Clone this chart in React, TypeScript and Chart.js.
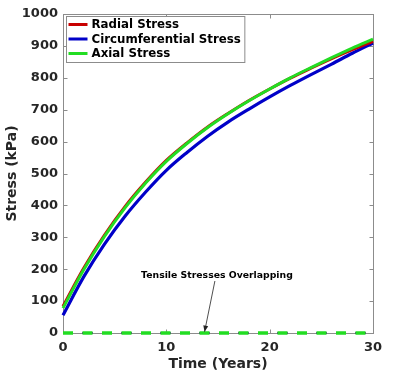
import React, { useEffect, useRef } from 'react';
import { Chart, registerables } from 'chart.js';

Chart.register(...registerables);

// ---- data ----
const years = [0, 2, 4, 6, 8, 10, 12, 14, 16, 18, 20, 22, 24, 26, 28, 30];
const radialStress = [84, 203, 306, 396, 473, 541, 596, 646, 689, 729, 765, 799, 830, 860, 888, 914];
const circumferentialStress = [56, 176, 278, 366, 442, 510, 566, 617, 662, 702, 740, 776, 810, 843, 877, 909];
const axialStress = [78, 198, 302, 392, 470, 538, 594, 644, 688, 728, 765, 800, 832, 863, 893, 921];

const tensileYears = [0, 30];
const radialTensile = [0, 0];
const circumferentialTensile = [0, 0];
const axialTensile = [0, 0];

const seriesLabels = ['Radial Stress', 'Circumferential Stress', 'Axial Stress'];
const annotationText = 'Tensile Stresses Overlapping';
const xTitle = 'Time (Years)';
const yTitle = 'Stress (kPa)';

const RED = '#c80000';
const BLUE = '#0000c8';
const GREEN = '#22dd22';
const FRAME = '#8c8c8c';
const TEXT = '#262626';
const FONT = '"DejaVu Sans", sans-serif';

const toPts = (xs: number[], ys: number[]) => xs.map((x, i) => ({ x, y: ys[i] }));

const framePlugin = {
  id: 'matlabFrame',
  beforeDatasetsDraw(chart: any) {
    const { ctx, chartArea: a, scales } = chart;
    const x = scales.x;
    const y = scales.y;
    ctx.save();
    ctx.strokeStyle = FRAME;
    ctx.lineWidth = 1;
    const L = Math.round(a.left) + 0.5;
    const R = Math.round(a.right) + 0.5;
    const T = Math.round(a.top) + 0.5;
    const B = Math.round(a.bottom) + 0.5;
    ctx.strokeRect(L, T, R - L, B - T);
    const tl = 4;
    ctx.beginPath();
    x.ticks.forEach((t: any) => {
      const px = Math.round(x.getPixelForValue(t.value)) + 0.5;
      ctx.moveTo(px, B);
      ctx.lineTo(px, B - tl);
      ctx.moveTo(px, T);
      ctx.lineTo(px, T + tl);
    });
    y.ticks.forEach((t: any) => {
      const py = Math.round(y.getPixelForValue(t.value)) + 0.5;
      ctx.moveTo(L, py);
      ctx.lineTo(L + tl, py);
      ctx.moveTo(R, py);
      ctx.lineTo(R - tl, py);
    });
    ctx.stroke();
    ctx.restore();
  },
  afterDatasetsDraw(chart: any) {
    const { ctx, chartArea: a, scales } = chart;
    const x = scales.x;
    const y = scales.y;
    ctx.save();
    // legend
    ctx.font = `bold 11.8px ${FONT}`;
    const colors = [RED, BLUE, GREEN];
    const maxW = Math.max(...seriesLabels.map((s) => ctx.measureText(s).width));
    const bx = Math.round(a.left) + 3.5;
    const by = Math.round(a.top) + 2.5;
    const bw = 25 + maxW + 4;
    const bh = 46;
    ctx.fillStyle = '#ffffff';
    ctx.fillRect(bx, by, bw, bh);
    ctx.strokeStyle = FRAME;
    ctx.lineWidth = 1;
    ctx.strokeRect(bx, by, bw, bh);
    seriesLabels.forEach((s, i) => {
      const cy = by + 8 + i * 14.5;
      ctx.strokeStyle = colors[i];
      ctx.lineWidth = 3;
      ctx.beginPath();
      ctx.moveTo(bx + 2, cy);
      ctx.lineTo(bx + 21, cy);
      ctx.stroke();
      ctx.fillStyle = '#000';
      ctx.textAlign = 'left';
      ctx.textBaseline = 'middle';
      ctx.fillText(s, bx + 25, cy + 0.5);
    });
    // annotation
    ctx.font = `bold 9.3px ${FONT}`;
    ctx.fillStyle = '#000';
    ctx.textAlign = 'center';
    ctx.textBaseline = 'middle';
    ctx.fillText(annotationText, x.getPixelForValue(14.9), y.getPixelForValue(179));
    const x1 = x.getPixelForValue(14.7);
    const y1 = y.getPixelForValue(163);
    const x2 = x.getPixelForValue(13.7);
    const y2 = y.getPixelForValue(4);
    ctx.strokeStyle = '#222';
    ctx.lineWidth = 0.8;
    ctx.beginPath();
    ctx.moveTo(x1, y1);
    ctx.lineTo(x2, y2);
    ctx.stroke();
    const ang = Math.atan2(y2 - y1, x2 - x1);
    const hl = 6;
    const hw = 2.5;
    ctx.fillStyle = '#222';
    ctx.beginPath();
    ctx.moveTo(x2, y2);
    ctx.lineTo(x2 - hl * Math.cos(ang) + hw * Math.sin(ang), y2 - hl * Math.sin(ang) - hw * Math.cos(ang));
    ctx.lineTo(x2 - hl * Math.cos(ang) - hw * Math.sin(ang), y2 - hl * Math.sin(ang) + hw * Math.cos(ang));
    ctx.closePath();
    ctx.fill();
    ctx.restore();
  },
};

export default function App() {
  const ref = useRef<HTMLCanvasElement | null>(null);
  useEffect(() => {
    if (!ref.current) return;
    const dashed = [10, 9.5];
    const chart = new Chart(ref.current, {
      type: 'line',
      data: {
        datasets: [
          { label: 'Radial Tensile', data: toPts(tensileYears, radialTensile), borderColor: RED, borderWidth: 2, borderDash: dashed, pointRadius: 0, order: 5, clip: false } as any,
          { label: 'Circumferential Tensile', data: toPts(tensileYears, circumferentialTensile), borderColor: BLUE, borderWidth: 2, borderDash: dashed, pointRadius: 0, order: 4, clip: false } as any,
          { label: 'Axial Tensile', data: toPts(tensileYears, axialTensile), borderColor: GREEN, borderWidth: 3.5, borderDash: dashed, pointRadius: 0, order: 0, clip: false } as any,
          { label: seriesLabels[0], data: toPts(years, radialStress), borderColor: RED, borderWidth: 3, pointRadius: 0, cubicInterpolationMode: 'monotone', order: 2, clip: false } as any,
          { label: seriesLabels[1], data: toPts(years, circumferentialStress), borderColor: BLUE, borderWidth: 3.2, pointRadius: 0, cubicInterpolationMode: 'monotone', order: 3, clip: false } as any,
          { label: seriesLabels[2], data: toPts(years, axialStress), borderColor: GREEN, borderWidth: 3, pointRadius: 0, cubicInterpolationMode: 'monotone', order: 1, clip: false } as any,
        ],
      },
      options: {
        animation: false,
        responsive: false,
        maintainAspectRatio: false,
        layout: { padding: { top: 14, right: 27, left: 0, bottom: 0 } },
        plugins: { legend: { display: false }, tooltip: { enabled: false } },
        scales: {
          x: {
            type: 'linear',
            min: 0,
            max: 30,
            grid: { display: false, drawTicks: false },
            border: { display: false },
            ticks: {
              stepSize: 10,
              padding: 7,
              color: TEXT,
              font: { family: FONT, size: 13, weight: 'bold' },
              maxRotation: 0,
              callback: (v: any) => String(v),
            },
            title: { display: true, text: xTitle, color: TEXT, font: { family: FONT, size: 14, weight: 'bold' }, padding: { top: 0, bottom: 7.6 } },
            afterFit: (s: any) => { s.height = 47; },
          },
          y: {
            type: 'linear',
            min: 0,
            max: 1000,
            grid: { display: false, drawTicks: false },
            border: { display: false },
            ticks: {
              stepSize: 100,
              padding: 5,
              color: TEXT,
              font: { family: FONT, size: 13, weight: 'bold' },
              callback: (v: any) => String(v),
            },
            title: { display: true, text: yTitle, color: TEXT, font: { family: FONT, size: 14, weight: 'bold' }, padding: { top: 4.1, bottom: 0 } },
            afterFit: (s: any) => { s.width = 63; },
          },
        },
      },
      plugins: [framePlugin],
    });
    return () => chart.destroy();
  }, []);
  return (
    <div style={{ position: 'absolute', left: 0, top: 0, width: 400, height: 380, background: '#fff' }}>
      <canvas ref={ref} width={400} height={380} style={{ width: 400, height: 380, display: 'block' }} />
    </div>
  );
}
